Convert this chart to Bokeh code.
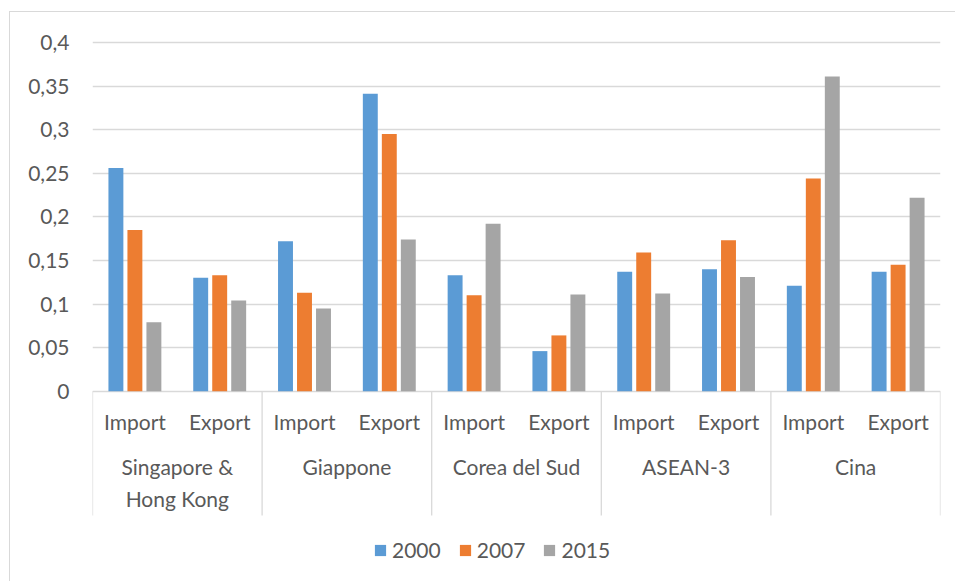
from bokeh.plotting import figure
from bokeh.models import (FactorRange, ColumnDataSource, FixedTicker,
                          CustomJSTickFormatter, Range1d)
from bokeh.transform import dodge
from bokeh.core.properties import value
from bokeh.embed import file_html
from bokeh.resources import INLINE

# ---- data -------------------------------------------------------------
regions = ["Singapore & Hong Kong", "Giappone", "Corea del Sud", "ASEAN-3", "Cina"]
region_labels = ["Singapore &\nHong Kong", "Giappone", "Corea del Sud", "ASEAN-3", "Cina"]
flows = ["Import", "Export"]
years = ["2000", "2007", "2015"]

# one value per (region, flow), in the order of the factors below
v2000 = [0.256, 0.130, 0.172, 0.341, 0.133, 0.046, 0.137, 0.140, 0.121, 0.137]
v2007 = [0.185, 0.133, 0.113, 0.295, 0.110, 0.064, 0.159, 0.173, 0.244, 0.145]
v2015 = [0.079, 0.104, 0.095, 0.174, 0.192, 0.111, 0.112, 0.131, 0.361, 0.222]

y_ticks = [0, 0.05, 0.1, 0.15, 0.2, 0.25, 0.3, 0.35, 0.4]

# ---- styling ----------------------------------------------------------
FONT = "Lato"
FONT_SIZE = "21px"
TEXT_COLOR = "#595959"
GRID_COLOR = "#D9D9D9"
COLORS = ["#5B9BD5", "#ED7D31", "#A5A5A5"]
OFFSETS = [-0.224, 0.0, 0.224]
BAR_WIDTH = 0.176

factors = [(r, f) for r in regions for f in flows]
source = ColumnDataSource(dict(x=factors, v2000=v2000, v2007=v2007, v2015=v2015))

p = figure(
    width=955, height=581,
    x_range=FactorRange(*factors, range_padding=0, group_padding=0, factor_padding=0),
    y_range=Range1d(-0.2182, 0.4343),
    x_axis_location=None,
    output_backend="svg", toolbar_location=None,
    min_border_left=92, min_border_right=15, min_border_top=12, min_border_bottom=0,
)
p.outline_line_color = None
p.background_fill_color = "white"
# transparent outer area so the chart-area border drawn on the host shows through
p.border_fill_alpha = 0
p.styles = {
    "background": (
        f"linear-gradient({GRID_COLOR}, {GRID_COLOR}) 9px 11px / 1px 100% no-repeat, "
        f"linear-gradient({GRID_COLOR}, {GRID_COLOR}) 9px 11px / 100% 1px no-repeat, "
        "white"
    )
}

# value axis
ax = p.yaxis[0]
ax.ticker = FixedTicker(ticks=y_ticks)
ax.formatter = CustomJSTickFormatter(code="""
    let s = tick.toFixed(2).replace(/0+$/, '').replace(/\\.$/, '');
    return s.replace('.', ',');
""")
ax.axis_line_color = None
ax.major_tick_line_color = None
ax.minor_tick_line_color = None
ax.major_tick_in = 0
ax.major_tick_out = 0
ax.major_label_standoff = 23
ax.major_label_text_font = FONT
ax.major_label_text_font_size = FONT_SIZE
ax.major_label_text_color = TEXT_COLOR

p.xgrid.visible = False
p.ygrid.grid_line_color = GRID_COLOR
p.ygrid.grid_line_width = 1.3

# bars
for year, off, color in zip(years, OFFSETS, COLORS):
    p.vbar(x=dodge("x", off, range=p.x_range), top="v" + year, width=BAR_WIDTH,
           source=source, fill_color=color, line_color=None, legend_label=year)

# category axis: separators and two label rows
bounds = [2 * i for i in range(len(regions) + 1)]
p.segment(x0=bounds, y0=0, x1=bounds, y1=-0.1425, line_color=GRID_COLOR, line_width=1.3)

p.text(x=factors, y=-0.035, text=[f for _, f in factors],
       text_font=value(FONT), text_font_size=FONT_SIZE, text_color=TEXT_COLOR,
       text_align="center", text_baseline="middle")

grp = ColumnDataSource(dict(x=[(r, "Import") for r in regions], t=region_labels))
p.text(x=dodge("x", 0.5, range=p.x_range), y=-0.0725, text="t", source=grp,
       text_font=value(FONT), text_font_size=FONT_SIZE, text_color=TEXT_COLOR,
       text_align="center", text_baseline="top", text_line_height=1.27)

# legend
lg = p.legend[0]
lg.orientation = "horizontal"
lg.location = (281, 19)
lg.border_line_color = None
lg.background_fill_alpha = 0
lg.padding = 0
lg.margin = 0
lg.spacing = 17
lg.glyph_width = 14
lg.glyph_height = 14
lg.label_standoff = 5
lg.label_text_font = FONT
lg.label_text_font_size = FONT_SIZE
lg.label_text_color = TEXT_COLOR

open("out.html", "w").write(file_html(p, INLINE))
